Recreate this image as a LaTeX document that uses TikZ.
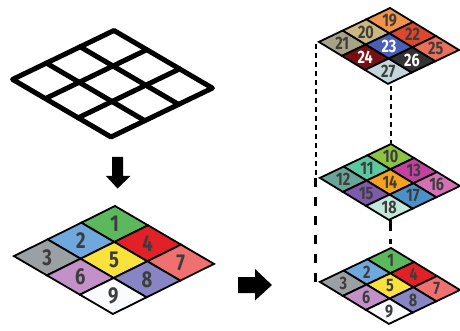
\documentclass[tikz,border=0pt]{standalone}
\usepackage{fontspec}
\newfontfamily\numfont{Fira Sans}[FakeStretch=0.8]
\usetikzlibrary{calc}
% bottom grid colours (1-9)
\definecolor{k1}{RGB}{92,184,92}
\definecolor{k2}{RGB}{111,168,220}
\definecolor{k3}{RGB}{155,160,165}
\definecolor{k4}{RGB}{226,32,40}
\definecolor{k5}{RGB}{250,225,60}
\definecolor{k6}{RGB}{195,145,200}
\definecolor{k7}{RGB}{240,112,112}
\definecolor{k8}{RGB}{135,133,195}
\definecolor{k9}{RGB}{250,251,253}
% middle grid (10-18)
\definecolor{k10}{RGB}{140,195,65}
\definecolor{k11}{RGB}{90,200,160}
\definecolor{k12}{RGB}{105,165,150}
\definecolor{k13}{RGB}{195,65,160}
\definecolor{k14}{RGB}{247,162,30}
\definecolor{k15}{RGB}{125,90,170}
\definecolor{k16}{RGB}{212,112,180}
\definecolor{k17}{RGB}{75,145,200}
\definecolor{k18}{RGB}{195,232,218}
% top grid (19-27)
\definecolor{k19}{RGB}{243,147,75}
\definecolor{k20}{RGB}{203,183,127}
\definecolor{k21}{RGB}{168,163,136}
\definecolor{k22}{RGB}{222,70,45}
\definecolor{k23}{RGB}{75,95,185}
\definecolor{k24}{RGB}{120,15,18}
\definecolor{k25}{RGB}{234,112,90}
\definecolor{k26}{RGB}{51,51,51}
\definecolor{k27}{RGB}{195,214,218}
\definecolor{txt}{RGB}{61,61,61}
\tikzset{
  cellst/.style={draw=black, line width=1.8pt, line join=miter},
  bignum/.style={inner sep=0pt, font=\numfont\bfseries\fontsize{23}{23}\selectfont},
  smallnum/.style={inner sep=0pt, font=\numfont\bfseries\fontsize{18}{18}\selectfont},
  thindash/.style={line width=2pt, dash pattern=on 5pt off 4pt},
  thickdash/.style={line width=2.7pt, dash pattern=on 9pt off 10pt},
  blockarrow/.style={fill=black, draw=none}
}
% #1 prefix, #2 origin, #3 u vector, #4 v vector, #5 number style, #6 list n/fill/text
\newcommand{\isogrid}[6]{%
  \begin{scope}[shift={#2}, x={#3}, y={#4}]
    \foreach \n/\fc/\tc [count=\k from 0] in {#6} {
      \pgfmathtruncatemacro\ii{int(\k/3)}
      \pgfmathtruncatemacro\jj{mod(\k,3)}
      \path[cellst, fill=\fc] (\ii,\jj) -- (\ii+1,\jj) -- (\ii+1,\jj+1) -- (\ii,\jj+1) -- cycle;
      \node[#5, text=\tc] (#1\n) at (\ii+0.5,\jj+0.5) {\n};
    }
  \end{scope}
}
\begin{document}
\begin{tikzpicture}[x={(1pt,0pt)}, y={(0pt,-1pt)}]
\path[use as bounding box] (0,0) rectangle (460,331);

% plain black grid
\begin{scope}[shift={(114,30.5)}, x={(32.8pt,-19.2pt)}, y={(-33.8pt,-16.3pt)}]
  \draw[line width=5pt, line join=round, line cap=round] (0,0) -- (3,0) -- (3,3) -- (0,3) -- cycle;
  \foreach \q in {1,2} {
    \draw[line width=5pt, line cap=round] (\q,0) -- (\q,3);
    \draw[line width=5pt, line cap=round] (0,\q) -- (3,\q);
  }
\end{scope}

% down arrow
\fill[blockarrow] (112,157) -- (123,157) -- (123,176) -- (130.5,176) -- (117.5,188.5) -- (106,176) -- (112,176) -- cycle;

% left coloured grid
\isogrid{a}{(115,206)}{(33pt,-19.3pt)}{(-33.7pt,-16.7pt)}{bignum}{1/k1/txt,2/k2/txt,3/k3/txt,4/k4/txt,5/k5/txt,6/k6/txt,7/k7/txt,8/k8/txt,9/k9/txt}

% right arrow
\fill[blockarrow] (238,277) -- (255,277) -- (255,269) -- (272,285) -- (255,300.5) -- (255,293) -- (238,293) -- cycle;

% dashed guide lines
\coordinate (l0) at (315.5,44);
\coordinate (l1) at (315.5,178);
\coordinate (l2) at (315.5,282);
\coordinate (r0) at (390.5,86);
\coordinate (r1) at (390.5,143);
\coordinate (r2) at (390.5,220);
\coordinate (r3) at (390.5,247);
\draw[thindash] (l0) -- (l1);
\draw[thickdash] (l1) -- (l2);
\draw[thindash] (r0) -- (r1);
\draw[line width=2.7pt, dash pattern=on 11pt off 8pt on 5pt off 20pt] (r2) -- (r3);

% right grids
\isogrid{t}{(390,8)}{(23pt,-14pt)}{(-23.7pt,-11.3pt)}{smallnum}{19/k19/txt,20/k20/txt,21/k21/txt,22/k22/txt,23/k23/white,24/k24/white,25/k25/txt,26/k26/white,27/k27/txt}
\isogrid{m}{(391,144)}{(23pt,-14pt)}{(-23.7pt,-11.3pt)}{smallnum}{10/k10/txt,11/k11/txt,12/k12/txt,13/k13/txt,14/k14/txt,15/k15/txt,16/k16/txt,17/k17/txt,18/k18/txt}
\isogrid{b}{(391,248)}{(23pt,-14pt)}{(-23.7pt,-11.3pt)}{smallnum}{1/k1/txt,2/k2/txt,3/k3/txt,4/k4/txt,5/k5/txt,6/k6/txt,7/k7/txt,8/k8/txt,9/k9/txt}
\end{tikzpicture}
\end{document}
